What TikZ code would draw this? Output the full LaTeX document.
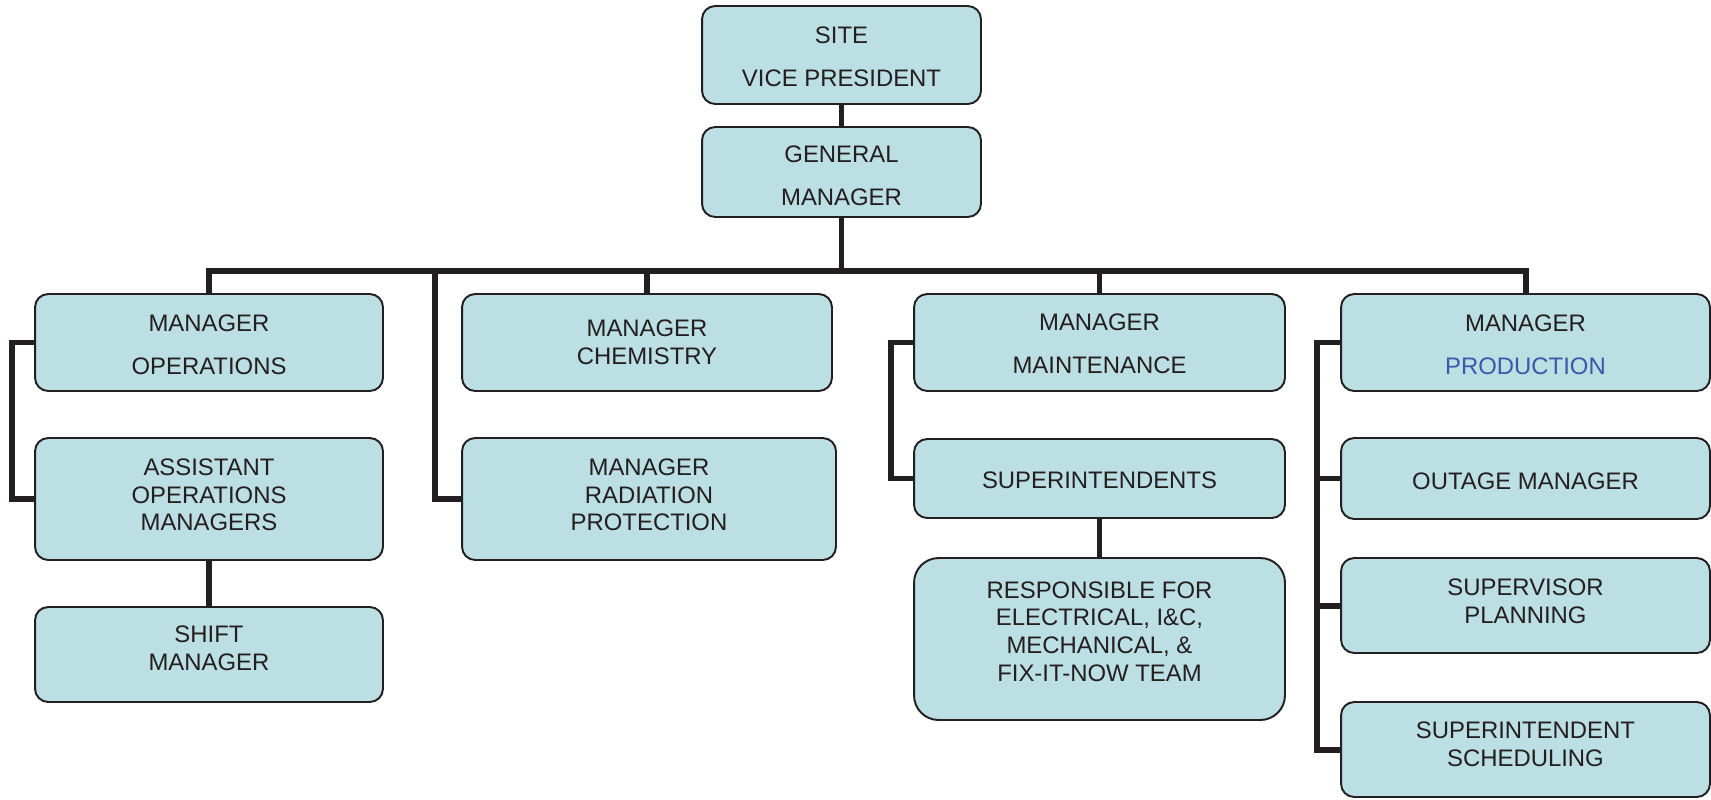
\documentclass[tikz,border=0pt]{standalone}
\usepackage{fontspec}
\setmainfont{Liberation Sans}
\usetikzlibrary{calc}
\definecolor{boxfill}{HTML}{BCDFE3}
\definecolor{ink}{HTML}{231F20}
\definecolor{prodblue}{HTML}{3F56AA}
\tikzset{
  box/.style={draw=ink, line width=1.1pt, fill=boxfill, rounded corners=7.5pt, inner sep=0pt},
  txt/.style={inner sep=0pt, align=center, text=ink, font=\fontsize{13.6}{15.7}\selectfont},
  conn/.style={draw=ink, line width=3.4pt, line join=miter}
}
\begin{document}
\begin{tikzpicture}[x=0.02cm,y=-0.02cm]
\useasboundingbox (0,0) rectangle (1711,799);

% boxes
\node[box, minimum width=5.58cm, minimum height=1.96cm] (site) at (841.5,55) {};
\node[box, minimum width=5.58cm, minimum height=1.8cm] (gm) at (841.5,172) {};
\node[box, minimum width=6.96cm, minimum height=1.94cm] (ops) at (209,342.5) {};
\node[box, minimum width=6.96cm, minimum height=2.44cm] (asst) at (209,499) {};
\node[box, minimum width=6.96cm, minimum height=1.9cm] (shift) at (209,654.5) {};
\node[box, minimum width=7.4cm, minimum height=1.94cm] (chem) at (647,342.5) {};
\node[box, minimum width=7.48cm, minimum height=2.44cm] (rad) at (649,499) {};
\node[box, minimum width=7.42cm, minimum height=1.94cm] (maint) at (1099.5,342.5) {};
\node[box, minimum width=7.42cm, minimum height=1.58cm] (super) at (1099.5,478.5) {};
\node[box, minimum width=7.42cm, minimum height=3.24cm, rounded corners=14pt] (resp) at (1099.5,639) {};
\node[box, minimum width=7.38cm, minimum height=1.94cm] (prod) at (1525.5,342.5) {};
\node[box, minimum width=7.38cm, minimum height=1.62cm] (outage) at (1525.5,478.5) {};
\node[box, minimum width=7.38cm, minimum height=1.9cm] (supv) at (1525.5,605.5) {};
\node[box, minimum width=7.38cm, minimum height=1.9cm] (sched) at (1525.5,749.5) {};

% texts
\node[txt] (site-t) at (841.5,57) {SITE\\[9pt]VICE PRESIDENT};
\node[txt] (gm-t) at (841.5,176) {GENERAL\\[9pt]MANAGER};
\node[txt] (ops-t) at (209,345) {MANAGER\\[9pt]OPERATIONS};
\node[txt] (asst-t) at (209,495) {ASSISTANT\\OPERATIONS\\MANAGERS};
\node[txt] (shift-t) at (209,648.5) {SHIFT\\MANAGER};
\node[txt] (chem-t) at (647,342) {MANAGER\\CHEMISTRY};
\node[txt] (rad-t) at (649,495) {MANAGER\\RADIATION\\PROTECTION};
\node[txt] (maint-t) at (1099.5,344) {MANAGER\\[9pt]MAINTENANCE};
\node[txt] (super-t) at (1099.5,480.5) {SUPERINTENDENTS};
\node[txt] (resp-t) at (1099.5,631.5) {RESPONSIBLE FOR\\ELECTRICAL, I\&C,\\MECHANICAL, \&\\FIX-IT-NOW TEAM};
\node[txt] (prod-t) at (1525.5,345) {MANAGER\\[9pt]\textcolor{prodblue}{PRODUCTION}};
\node[txt] (outage-t) at (1525.5,481.5) {OUTAGE MANAGER};
\node[txt] (supv-t) at (1525.5,601) {SUPERVISOR\\PLANNING};
\node[txt] (sched-t) at (1525.5,744.5) {SUPERINTENDENT\\SCHEDULING};

% helper coordinates
\coordinate (busy) at (0,271);
\coordinate (opsx) at (12,0);
\coordinate (radx) at (435,0);
\coordinate (maintx) at (891,0);
\coordinate (prodx) at (1317,0);

% connectors
\draw[conn] (site.south) -- (gm.north);
\draw[conn] (gm.south) -- (gm.south |- busy);
\draw[conn] (ops.north) -- (ops.north |- busy) -- (prod.north |- busy) -- (prod.north);
\draw[conn] (chem.north) -- (chem.north |- busy);
\draw[conn] (maint.north) -- (maint.north |- busy);
\draw[conn] (radx |- busy) -- (radx |- rad.west) -- (rad.west);
\draw[conn] (ops.west) -- (opsx |- ops.west) -- (opsx |- asst.west) -- (asst.west);
\draw[conn] (asst.south) -- (shift.north);
\draw[conn] (maint.west) -- (maintx |- maint.west) -- (maintx |- super.west) -- (super.west);
\draw[conn] (super.south) -- (resp.north);
\draw[conn] (prod.west) -- (prodx |- prod.west) -- (prodx |- sched.west) -- (sched.west);
\draw[conn] (prodx |- outage.west) -- (outage.west);
\draw[conn] (prodx |- supv.west) -- (supv.west);
\end{tikzpicture}
\end{document}
